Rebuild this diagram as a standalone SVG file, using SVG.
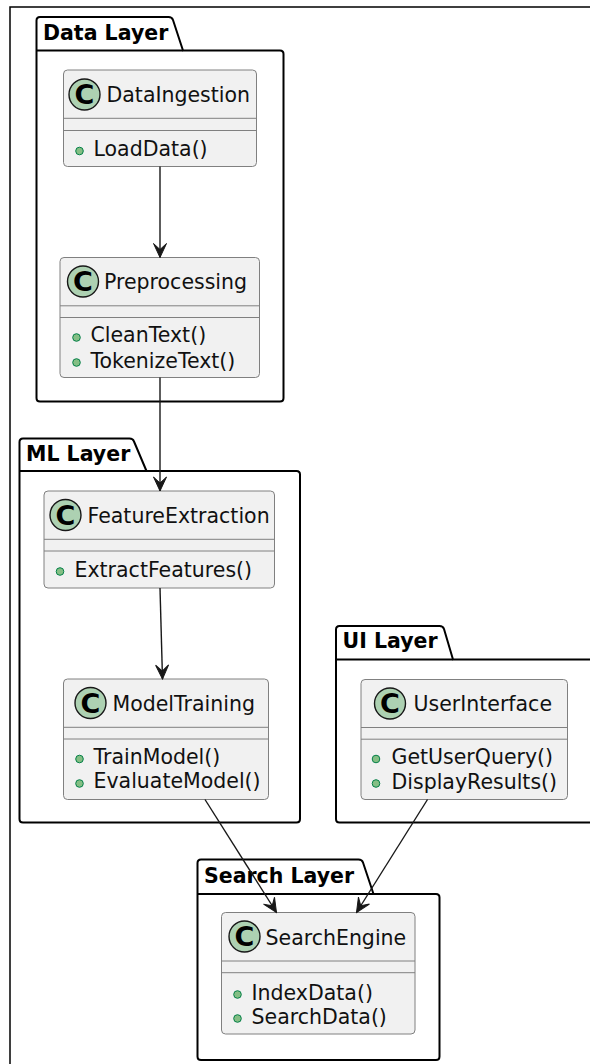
<svg xmlns="http://www.w3.org/2000/svg" width="590" height="1064" viewBox="0 0 590 1064">
<style>
.frame{fill:none;stroke:#000;stroke-width:1.5}
.pkg{fill:#fff;stroke:#000;stroke-width:2;stroke-linejoin:round}
.pkgline{fill:none;stroke:#000;stroke-width:2}
.ptitle{font-family:"DejaVu Sans",sans-serif;font-weight:bold;font-size:20.5px;fill:#000}
.box{fill:#f1f1f1;stroke:#808080;stroke-width:1}
.sep{stroke:#808080;stroke-width:1}
.circ{fill:#add1b2;stroke:#181818;stroke-width:1.4}
.cl{font-family:"DejaVu Sans",sans-serif;font-weight:bold;font-size:27px;fill:#000;text-anchor:middle}
.name{font-family:"DejaVu Sans",sans-serif;font-size:20.5px;fill:#111}
.meth{font-family:"DejaVu Sans",sans-serif;font-size:20.5px;fill:#111}
.dot{fill:#84be84;stroke:#038048;stroke-width:1}
.link{fill:none;stroke:#181818;stroke-width:1.4;marker-end:url(#arr)}
</style>
<defs>
<marker id="arr" markerUnits="userSpaceOnUse" viewBox="-15 -8 16 16" refX="0" refY="0" markerWidth="16" markerHeight="16" orient="auto">
<path d="M0,0 L-14,-6.5 L-8,0 L-14,6.5 Z" fill="#181818" stroke="#181818" stroke-width="1" stroke-linejoin="miter"/>
</marker>
</defs>
<path class="frame" d="M10,1070 L10,7 L600,7"/>
<g id="pkg-data">
<path class="pkg" d="M36.5,20.5 Q36.5,17 40,17 L168.5,17 Q172,17 173,20 L183,50.5 L280,50.5 Q283.5,50.5 283.5,54 L283.5,398 Q283.5,401.5 280,401.5 L40,401.5 Q36.5,401.5 36.5,398 Z"/>
<path class="pkgline" d="M36.5,50.5 L183,50.5"/>
<text class="ptitle" x="43" y="39.5">Data Layer</text>
</g>
<g id="pkg-ml">
<path class="pkg" d="M19.5,442 Q19.5,438.5 23,438.5 L129.5,438.5 Q133,438.5 134,441.5 L146.5,471 L296.5,471 Q300,471 300,474.5 L300,819 Q300,822.5 296.5,822.5 L23,822.5 Q19.5,822.5 19.5,819 Z"/>
<path class="pkgline" d="M19.5,471 L146.5,471"/>
<text class="ptitle" x="26" y="461">ML Layer</text>
</g>
<g id="pkg-ui">
<path class="pkg" d="M336,629.5 Q336,626 339.5,626 L439.5,626 Q443,626 444,629 L453,659.5 L616.5,659.5 Q620,659.5 620,663 L620,819 Q620,822.5 616.5,822.5 L339.5,822.5 Q336,822.5 336,819 Z"/>
<path class="pkgline" d="M336,659.5 L453,659.5"/>
<text class="ptitle" x="342.5" y="648">UI Layer</text>
</g>
<g id="pkg-search">
<path class="pkg" d="M197.5,863 Q197.5,859.5 201,859.5 L358.5,859.5 Q362,859.5 363,862.5 L373.5,894 L436,894 Q439.5,894 439.5,897.5 L439.5,1056.5 Q439.5,1060 436,1060 L201,1060 Q197.5,1060 197.5,1056.5 Z"/>
<path class="pkgline" d="M197.5,894 L373.5,894"/>
<text class="ptitle" x="204" y="882.5">Search Layer</text>
</g>
<g id="DataIngestion">
<rect class="box" x="63.5" y="70" width="193" height="96.5" rx="4"/>
<line class="sep" x1="63.5" y1="118.3" x2="256.5" y2="118.3"/>
<line class="sep" x1="63.5" y1="130.5" x2="256.5" y2="130.5"/>
<circle class="circ" cx="84.5" cy="94.5" r="15.5"/>
<text class="cl" x="84.5" y="104">C</text>
<text class="name" x="106.5" y="101.5">DataIngestion</text>
<circle class="dot" cx="79.5" cy="151" r="3.8"/>
<text class="meth" x="93.5" y="156">LoadData()</text>
</g>
<g id="Preprocessing">
<rect class="box" x="60" y="257.5" width="199.5" height="120" rx="4"/>
<line class="sep" x1="60" y1="305.8" x2="259.5" y2="305.8"/>
<line class="sep" x1="60" y1="317.5" x2="259.5" y2="317.5"/>
<circle class="circ" cx="83" cy="281.5" r="15.5"/>
<text class="cl" x="83" y="291">C</text>
<text class="name" x="104" y="289">Preprocessing</text>
<circle class="dot" cx="76.5" cy="337.5" r="3.8"/>
<text class="meth" x="90.5" y="342">CleanText()</text>
<circle class="dot" cx="76.5" cy="362.5" r="3.8"/>
<text class="meth" x="90.5" y="367.5">TokenizeText()</text>
</g>
<g id="FeatureExtraction">
<rect class="box" x="44" y="491" width="230.5" height="97" rx="4"/>
<line class="sep" x1="44" y1="539.3" x2="274.5" y2="539.3"/>
<line class="sep" x1="44" y1="551" x2="274.5" y2="551"/>
<circle class="circ" cx="65.5" cy="515" r="15.5"/>
<text class="cl" x="65.5" y="524.5">C</text>
<text class="name" x="87.5" y="522.5">FeatureExtraction</text>
<circle class="dot" cx="60" cy="571.5" r="3.8"/>
<text class="meth" x="74.5" y="576.5">ExtractFeatures()</text>
</g>
<g id="ModelTraining">
<rect class="box" x="63.5" y="679" width="205" height="120.5" rx="4"/>
<line class="sep" x1="63.5" y1="727.3" x2="268.5" y2="727.3"/>
<line class="sep" x1="63.5" y1="739" x2="268.5" y2="739"/>
<circle class="circ" cx="90.5" cy="703" r="15.5"/>
<text class="cl" x="90.5" y="712.5">C</text>
<text class="name" x="112.5" y="710.5">ModelTraining</text>
<circle class="dot" cx="79.5" cy="759" r="3.8"/>
<text class="meth" x="93.5" y="764">TrainModel()</text>
<circle class="dot" cx="79.5" cy="783.5" r="3.8"/>
<text class="meth" x="93.5" y="788">EvaluateModel()</text>
</g>
<g id="UserInterface">
<rect class="box" x="361" y="679.5" width="206.5" height="120" rx="4"/>
<line class="sep" x1="361" y1="727.5" x2="567.5" y2="727.5"/>
<line class="sep" x1="361" y1="739.2" x2="567.5" y2="739.2"/>
<circle class="circ" cx="390" cy="703.5" r="15.5"/>
<text class="cl" x="390" y="713">C</text>
<text class="name" x="413.5" y="711">UserInterface</text>
<circle class="dot" cx="376" cy="759" r="3.8"/>
<text class="meth" x="391.5" y="764">GetUserQuery()</text>
<circle class="dot" cx="376" cy="783.5" r="3.8"/>
<text class="meth" x="391.5" y="788.5">DisplayResults()</text>
</g>
<g id="SearchEngine">
<rect class="box" x="221.5" y="912.5" width="193.5" height="121.5" rx="4"/>
<line class="sep" x1="221.5" y1="961" x2="415" y2="961"/>
<line class="sep" x1="221.5" y1="972.7" x2="415" y2="972.7"/>
<circle class="circ" cx="244.5" cy="936.5" r="15.5"/>
<text class="cl" x="244.5" y="946">C</text>
<text class="name" x="265.5" y="944.5">SearchEngine</text>
<circle class="dot" cx="237.5" cy="994.5" r="3.8"/>
<text class="meth" x="251.5" y="999.5">IndexData()</text>
<circle class="dot" cx="237.5" cy="1018.5" r="3.8"/>
<text class="meth" x="251.5" y="1023.5">SearchData()</text>
</g>
<g id="connectors">
<path class="link" d="M160,166.5 L160,257.5"/>
<path class="link" d="M160,377.5 L160,491"/>
<path class="link" d="M160,588 L162.5,679"/>
<path class="link" d="M205,799.5 L276.5,912.5"/>
<path class="link" d="M427.5,799.5 L356.5,912.5"/>
</g>
</svg>
